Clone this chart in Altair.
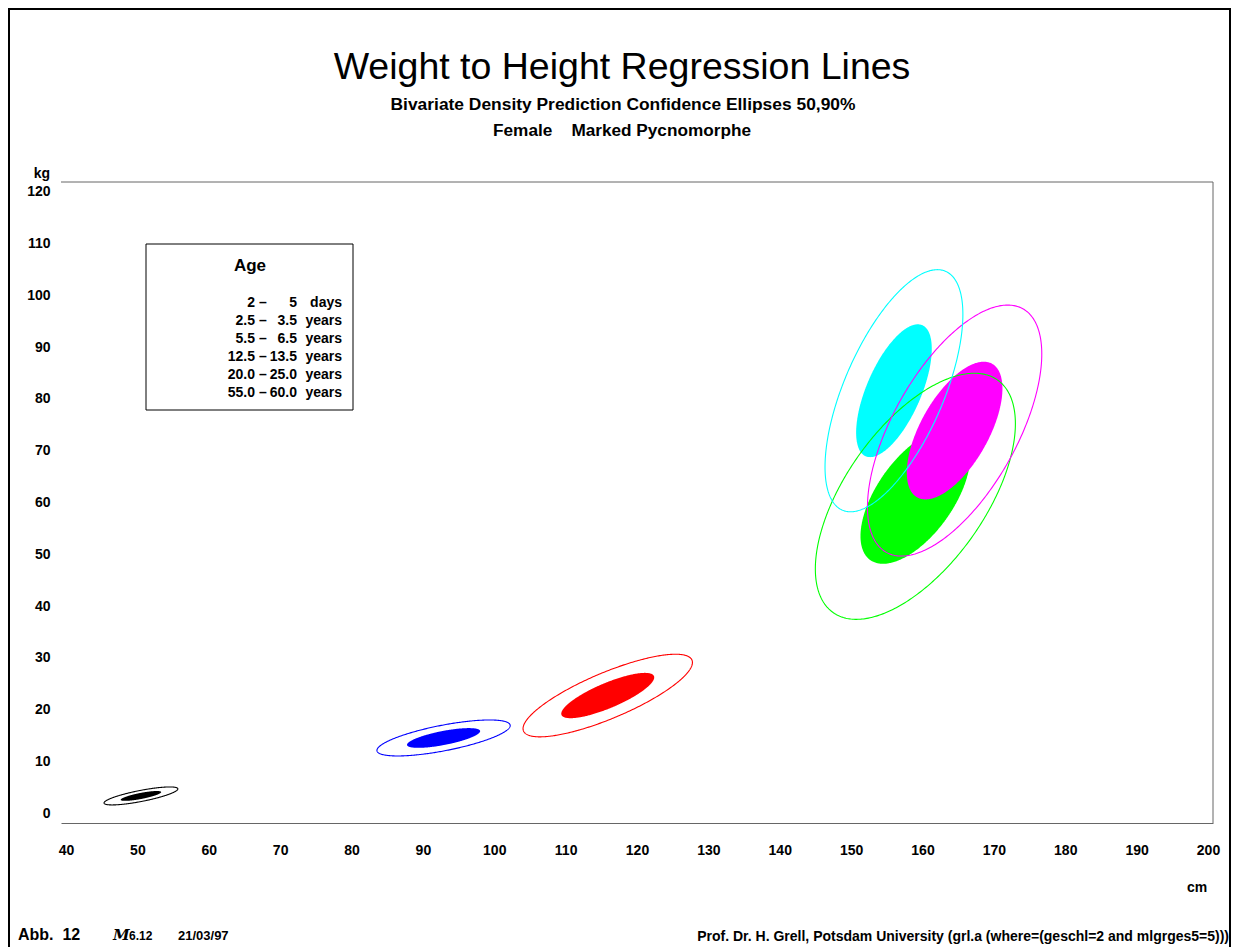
import numpy as np
import pandas as pd
import altair as alt

# ---- data ----
groups = ["2 - 5 days", "2.5-3.5 years", "5.5-6.5 years",
          "12.5-13.5 years", "20.0-25.0 years", "55.0-60.0 years"]
colors = ["#000000", "#0000FF", "#FF0000", "#00FF00", "#FF00FF", "#00FFFF"]
mean_height = [50.5, 92.9, 115.9, 159.0, 164.5, 156.0]   # cm
mean_weight = [3.3, 14.5, 22.7, 61.2, 73.9, 81.6]        # kg
sd_height = [2.41, 4.35, 5.53, 6.53, 5.69, 4.50]
sd_weight = [0.81, 1.62, 3.72, 11.08, 11.30, 10.90]
corr = [0.78, 0.69, 0.80, 0.59, 0.61, 0.63]
levels = [0.50, 0.90]

age_low = ["2", "2.5", "5.5", "12.5", "20.0", "55.0"]
age_high = ["5", "3.5", "6.5", "13.5", "25.0", "60.0"]
age_unit = ["days", "years", "years", "years", "years", "years"]

x_ticks = list(range(40, 201, 10))
y_ticks = list(range(0, 121, 10))

# ---- ellipse geometry from the bivariate normal parameters ----
fill_rows, line_rows = [], []
for gi, g in enumerate(groups):
    mx, my, sx, sy, r = mean_height[gi], mean_weight[gi], sd_height[gi], sd_weight[gi], corr[gi]
    q = np.sqrt(1 - r * r)
    for p in levels:
        k = np.sqrt(-2 * np.log(1 - p))
        if p == 0.50:
            for t in np.linspace(0, np.pi, 181):
                fill_rows.append({"g": g, "x": mx + k * sx * np.cos(t),
                                  "ylo": my + k * sy * (r * np.cos(t) - q * np.sin(t)),
                                  "yhi": my + k * sy * (r * np.cos(t) + q * np.sin(t))})
        else:
            for i, t in enumerate(np.linspace(0, 2 * np.pi, 361)):
                line_rows.append({"g": g, "i": i, "x": mx + k * sx * np.cos(t),
                                  "y": my + k * sy * (r * np.cos(t) + q * np.sin(t))})
fill_df = pd.DataFrame(fill_rows)
line_df = pd.DataFrame(line_rows)

W, H = 1152, 641
FONT = "Liberation Sans"
xs = alt.Scale(domain=[39.3, 200.7], nice=False, zero=False)
ys = alt.Scale(domain=[-1.93, 121.93], nice=False, zero=False)
cs = alt.Scale(domain=groups, range=colors)

x_axis = alt.Axis(values=x_ticks, title=None, ticks=False, tickSize=0, grid=False,
                  domainColor="#666666", domainWidth=1, labelPadding=27,
                  labelBaseline="middle", labelFont=FONT, labelFontSize=14,
                  labelFontWeight="bold", labelColor="black", labelFlush=False,
                  labelOverlap=False)
y_axis = alt.Axis(values=y_ticks, title=None, ticks=False, tickSize=0, grid=False,
                  domain=False, labelPadding=11, labelFont=FONT, labelFontSize=14,
                  labelFontWeight="bold", labelColor="black", labelFlush=False,
                  labelOverlap=False, labelBaseline="middle")

layers = []
# filled 50% ellipses
draw_order = [0, 1, 2, 5, 3, 4]
for gi in draw_order:
    g = groups[gi]
    layers.append(
        alt.Chart(fill_df[fill_df.g == g]).mark_area(color=colors[gi], opacity=1, interpolate="linear").encode(
            x=alt.X("x:Q", scale=xs, axis=x_axis),
            y=alt.Y("ylo:Q", scale=ys, axis=y_axis),
            y2="yhi:Q",
        )
    )
# 90% outlines
layers.append(
    alt.Chart(line_df).mark_line(strokeWidth=1.1).encode(
        x=alt.X("x:Q", scale=xs, axis=x_axis),
        y=alt.Y("y:Q", scale=ys, axis=y_axis),
        color=alt.Color("g:N", scale=cs, legend=None),
        detail="g:N",
        order="i:Q",
    )
)

one = pd.DataFrame({"a": [0]})

# plot frame top and right lines
layers.append(alt.Chart(one).mark_rule(color="#666666", strokeWidth=1).encode(
    x=alt.value(0), x2=alt.value(W), y=alt.value(0)))
layers.append(alt.Chart(one).mark_rule(color="#666666", strokeWidth=1).encode(
    x=alt.value(W), y=alt.value(0), y2=alt.value(H)))

# outer page frame
layers.append(alt.Chart(one).mark_rect(fill=None, stroke="black", strokeWidth=2).encode(
    x=alt.value(-52), x2=alt.value(1169), y=alt.value(-173), y2=alt.value(820)))

# legend box
layers.append(alt.Chart(one).mark_rect(fill=None, stroke="black", strokeWidth=1).encode(
    x=alt.value(85), x2=alt.value(292), y=alt.value(62), y2=alt.value(228)))


def txt(s, x, y, size, weight="bold", align="center", baseline="middle", font=FONT,
        style="normal", lh=None):
    kw = dict(text=s, fontSize=size, fontWeight=weight, align=align, baseline=baseline,
              font=font, fontStyle=style, color="black")
    if lh is not None:
        kw["lineHeight"] = lh
    return alt.Chart(one).mark_text(**kw).encode(x=alt.value(x), y=alt.value(y))


NB = "\u00a0"
layers += [
    txt("Weight to Height Regression Lines", 561, -114, 37.5, weight="normal"),
    txt("Bivariate Density Prediction Confidence Ellipses 50,90%", 562, -77, 17.4),
    txt("Female" + NB * 4 + "Marked Pycnomorphe", 561, -51, 17.2),
    txt("kg", -11, -4, 14, align="right", baseline="alphabetic"),
    txt("cm", 1136, 706, 14),
    txt("Age", 189, 84, 17),
    txt(age_low, 194, 121, 14, align="right", lh=18),
    txt(["\u2013"] * 6, 202, 121, 14, lh=18),
    txt(age_high, 236, 121, 14, align="right", lh=18),
    txt(age_unit, 281, 121, 14, align="right", lh=18),
    txt("Abb." + NB + NB + "12", -43, 753, 16, align="left"),
    txt("M", 52, 753, 15, align="left", font="DejaVu Serif", style="italic"),
    txt("6.12", 68, 754, 12, align="left"),
    txt("21/03/97", 117, 754, 13, align="left"),
    txt("Prof. Dr. H. Grell, Potsdam University (grl.a (where=(geschl=2 and mlgrges5=5)))",
        1168, 755, 14, align="right"),
]

chart = alt.layer(*layers).properties(
    width=W, height=H,
    padding={"left": 53, "top": 174, "right": 18, "bottom": 124},
    autosize=alt.AutoSizeParams(type="none"),
    background="white",
).configure_view(stroke=None)

chart.save("out.html", embed_options={"renderer": "svg", "actions": False})
